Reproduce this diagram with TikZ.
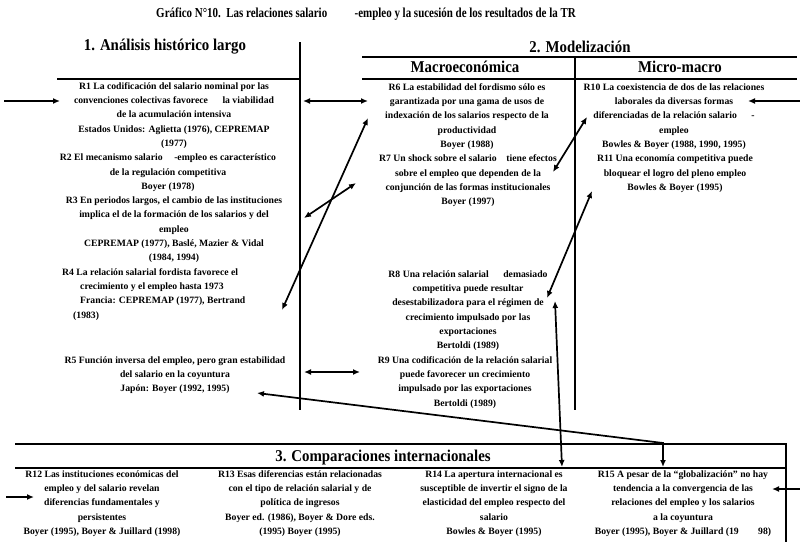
\documentclass[tikz,border=0pt]{standalone}
\usepackage{fontspec}
\setmainfont{Liberation Serif}
\newfontfamily\headfont{Liberation Serif Bold}[FakeStretch=0.9]
\newfontfamily\titlefont{Liberation Serif Bold}[FakeStretch=0.8]
\usetikzlibrary{arrows.meta}

\tikzset{
  resbox/.style={font=\fontsize{9.7}{14.3}\selectfont\bfseries, align=center, inner sep=0pt, anchor=north},
  hdr/.style={font=\headfont\fontsize{16.5}{18}\selectfont, inner sep=0pt},
  sepline/.style={line width=1.4pt},
  thickline/.style={line width=2.4pt},
  dlink/.style={line width=1.7pt, {Latex[length=7pt,width=6pt]}-{Latex[length=7pt,width=6pt]}},
  inarrow/.style={line width=1.7pt, -{Latex[length=7pt,width=6pt]}},
}

\begin{document}
\begin{tikzpicture}[x=1pt,y=-1pt]
  \useasboundingbox (0,0) rectangle (800,542);
  % Title and headings
  \node[hdr,font=\titlefont\fontsize{13.7}{15}\selectfont] (title) at (366,14)
    {Gráfico N°10.\ \ Las relaciones salario\hspace{2em}-empleo y la sucesión de los resultados de la TR};
  \node[hdr] (hist) at (165,47) {1. Análisis histórico largo};
  \node[hdr] (model) at (580,47) {2. Modelización};
  \node[hdr] (macro) at (465,67) {Macroeconómica};
  \node[hdr] (micro) at (680,67) {Micro-macro};
  \node[hdr] (comp) at (383,458) {3. Comparaciones internacionales};

  % Rules
  \draw[sepline] (300,42) -- (300,410);
  \draw[sepline] (575,57) -- (575,410);
  \draw[thickline] (362,57) -- (797,57);
  \draw[sepline] (362,79) -- (797,79);
  \draw[sepline] (57,79) -- (300,79);
  \draw[thickline] (15,444) -- (787,444);
  \draw[sepline] (15,468) -- (787,468);
  \draw[sepline] (786,444) -- (786,542);

  % 1. Long historical analysis
  \node[resbox] (r1) at (174,82.3) {R1 La codificación del salario nominal por las\\
    convenciones colectivas favorece\hspace{1.5em}la viabilidad\\
    de la acumulación intensiva\\
    Estados Unidos: Aglietta (1976), CEPREMAP\\
    (1977)};
  \node[resbox] (r2) at (168,153.8) {R2 El mecanismo salario\hspace{1.2em}-empleo es característico\\
    de la regulación competitiva\\
    Boyer (1978)};
  \node[resbox] (r3) at (174,196.7) {R3 En periodos largos, el cambio de las instituciones\\
    implica el de la formación de los salarios y del\\
    empleo\\
    CEPREMAP (1977), Baslé, Mazier \& Vidal\\
    (1984, 1994)};
  \node[resbox,align=left,anchor=north west] (r4) at (62,268.2) {R4 La relación salarial fordista favorece el\\
    \hspace*{18pt}crecimiento y el empleo hasta 1973\\
    \hspace*{18pt}Francia: CEPREMAP (1977), Bertrand\\
    \hspace*{11pt}(1983)};
  \node[resbox] (r5) at (175,356.3) {R5 Función inversa del empleo, pero gran estabilidad\\
    del salario en la coyuntura\\
    Japón: Boyer (1992, 1995)};

  % 2. Modelling: macroeconomic
  \node[resbox] (r6) at (467,83.3) {R6 La estabilidad del fordismo sólo es\\
    garantizada por una gama de usos de\\
    indexación de los salarios respecto de la\\
    productividad\\
    Boyer (1988)};
  \node[resbox] (r7) at (468,154.8) {R7 Un shock sobre el salario\hspace{1em}tiene efectos\\
    sobre el empleo que dependen de la\\
    conjunción de las formas institucionales\\
    Boyer (1997)};
  \node[resbox] (r8) at (468,270.3) {R8 Una relación salarial\hspace{1.5em}demasiado\\
    competitiva puede resultar\\
    desestabilizadora para el régimen de\\
    crecimiento impulsado por las\\
    exportaciones\\
    Bertoldi (1989)};
  \node[resbox] (r9) at (465,356.3) {R9 Una codificación de la relación salarial\\
    puede favorecer un crecimiento\\
    impulsado por las exportaciones\\
    Bertoldi (1989)};

  % 2. Modelling: micro-macro
  \node[resbox] (r10) at (674,83.3) {R10 La coexistencia de dos de las relaciones\\
    laborales da diversas formas\\
    diferenciadas de la relación salario\hspace{1.5em}-\\
    empleo\\
    Bowles \& Boyer (1988, 1990, 1995)};
  \node[resbox] (r11) at (675,154.8) {R11 Una economía competitiva puede\\
    bloquear el logro del pleno empleo\\
    Bowles \& Boyer (1995)};

  % 3. International comparisons
  \node[resbox] (r12) at (102,470.3) {R12 Las instituciones económicas del\\
    empleo y del salario revelan\\
    diferencias fundamentales y\\
    persistentes\\
    Boyer (1995), Boyer \& Juillard (1998)};
  \node[resbox] (r13) at (300,470.3) {R13 Esas diferencias están relacionadas\\
    con el tipo de relación salarial y de\\
    política de ingresos\\
    Boyer ed. (1986), Boyer \& Dore eds.\\
    (1995) Boyer (1995)};
  \node[resbox] (r14) at (494,470.3) {R14 La apertura internacional es\\
    susceptible de invertir el signo de la\\
    elasticidad del empleo respecto del\\
    salario\\
    Bowles \& Boyer (1995)};
  \node[resbox] (r15) at (683,470.3) {R15 A pesar de la “globalización” no hay\\
    tendencia a la convergencia de las\\
    relaciones del empleo y los salarios\\
    a la coyuntura\\
    Boyer (1995), Boyer \& Juillard (19\hspace{2em}98)};

  % Arrow ends
  \coordinate (inl) at (4,101);
  \coordinate (r1in) at (60,101);
  \coordinate (inr) at (800,101);
  \coordinate (r10in) at (748,101);
  \coordinate (r1e) at (303,101);
  \coordinate (r6w) at (368,101);
  \coordinate (r4e) at (282,310);
  \coordinate (r6sw) at (368,118);
  \coordinate (r3e) at (304,218);
  \coordinate (r7w) at (356,183);
  \coordinate (r10w) at (587,117);
  \coordinate (r7e) at (553,172);
  \coordinate (r11w) at (592,191);
  \coordinate (r8e) at (547,298);
  \coordinate (r8s) at (555,301);
  \coordinate (r14n) at (562,467);
  \coordinate (r5e) at (304,372);
  \coordinate (r9w) at (360,372);
  \coordinate (r5s) at (257,393);
  \coordinate (bend) at (663,443);
  \coordinate (r15n) at (663,467);
  \coordinate (inbl) at (6,497);
  \coordinate (r12in) at (34,497);
  \coordinate (inbr) at (800,489);
  \coordinate (r15in) at (772,489);

  % Connectors
  \draw[inarrow] (inl) -- (r1in);
  \draw[inarrow] (inr) -- (r10in);
  \draw[dlink] (r1e) -- (r6w);
  \draw[dlink] (r4e) -- (r6sw);
  \draw[dlink] (r3e) -- (r7w);
  \draw[dlink] (r10w) -- (r7e);
  \draw[dlink] (r11w) -- (r8e);
  \draw[dlink] (r8s) -- (r14n);
  \draw[dlink] (r5e) -- (r9w);
  \draw[dlink] (r5s) -- (bend) -- (r15n);
  \draw[inarrow] (inbl) -- (r12in);
  \draw[inarrow] (inbr) -- (r15in);
\end{tikzpicture}
\end{document}
